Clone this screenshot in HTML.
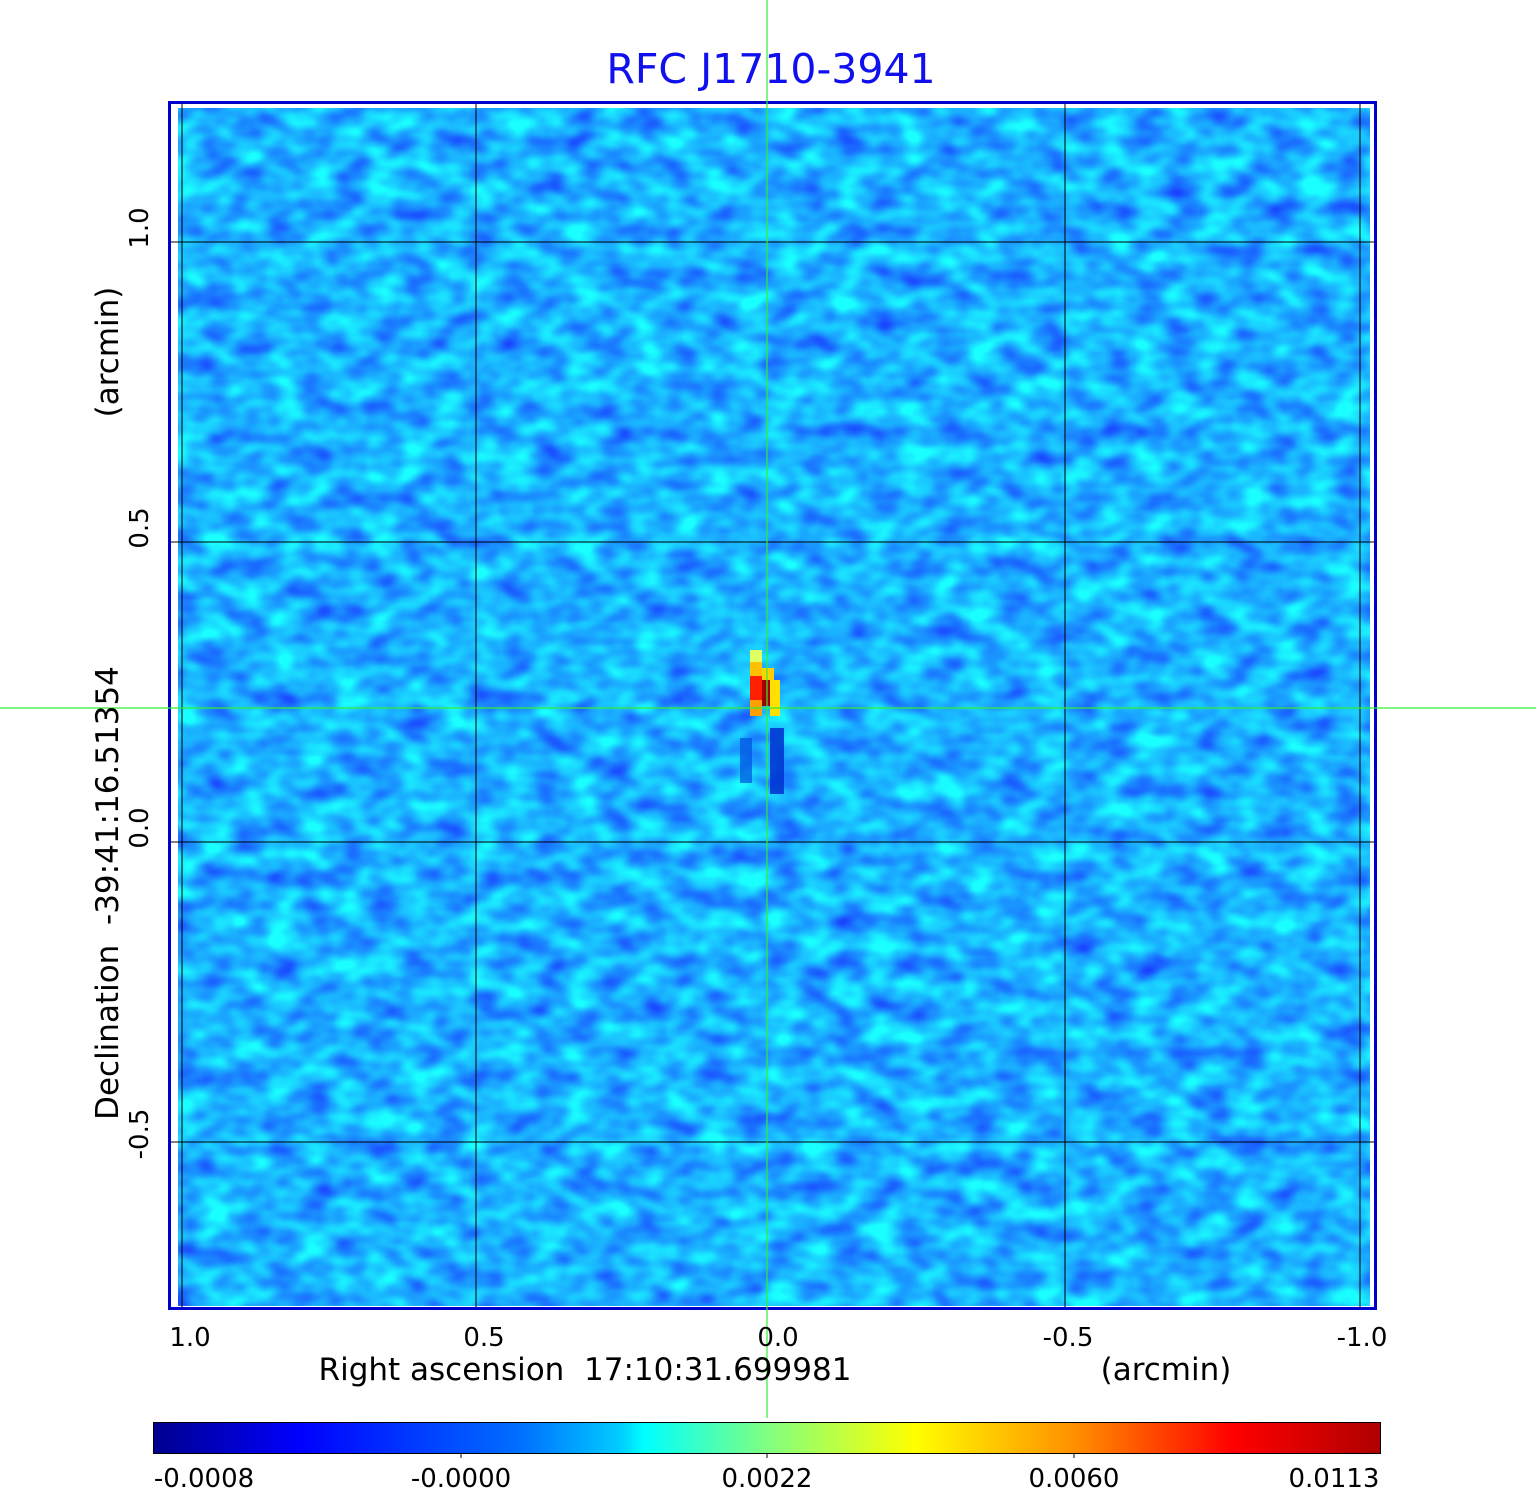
<!DOCTYPE html>
<html><head><meta charset="utf-8"><style>
html,body{margin:0;padding:0;background:#fff;}
svg{display:block;font-family:"DejaVu Sans","Liberation Sans",sans-serif;}
</style></head><body>
<svg width="1536" height="1511" viewBox="0 0 1536 1511" xmlns="http://www.w3.org/2000/svg">
<defs>
<filter id="nz" x="0" y="0" width="100%" height="100%" color-interpolation-filters="sRGB">
<feTurbulence type="fractalNoise" baseFrequency="0.03 0.045" numOctaves="2" seed="7" result="t"/>
<feColorMatrix in="t" type="matrix" values="0 0 0 0 0.1  1.1 0 0 0 0.15  0 0 0 0 1  0 0 0 0 1"/>
</filter>
<linearGradient id="jet" x1="0" x2="1" y1="0" y2="0">
<stop offset="0" stop-color="#00008f"/>
<stop offset="0.12" stop-color="#0000ff"/>
<stop offset="0.3" stop-color="#0070ff"/>
<stop offset="0.38" stop-color="#00ccff"/>
<stop offset="0.4" stop-color="#00ffff"/>
<stop offset="0.5" stop-color="#80ff80"/>
<stop offset="0.62" stop-color="#ffff00"/>
<stop offset="0.75" stop-color="#ff9000"/>
<stop offset="0.88" stop-color="#ff0000"/>
<stop offset="1" stop-color="#b00000"/>
</linearGradient>
</defs>
<text x="771" y="83" font-size="41" fill="#1010ee" text-anchor="middle">RFC J1710-3941</text>
<rect x="178" y="108" width="1192" height="1198" fill="#1890ff" filter="url(#nz)"/>
<!-- source -->
<rect x="770" y="728" width="14" height="66" fill="#0030d0" opacity="0.85"/>
<rect x="740" y="738" width="12" height="45" fill="#0050e0" opacity="0.7"/>
<rect x="750" y="650" width="12" height="12" fill="#e0ff60"/>
<rect x="750" y="662" width="12" height="14" fill="#ffc000"/>
<rect x="762" y="668" width="12" height="12" fill="#ffd000"/>
<rect x="750" y="676" width="12" height="24" fill="#ff2000"/>
<rect x="762" y="680" width="8" height="26" fill="#a00000"/>
<rect x="770" y="680" width="10" height="36" fill="#ffe000"/>
<rect x="750" y="700" width="12" height="16" fill="#ffa000"/>
<!-- grid -->
<g stroke="#000" stroke-width="1">
<line x1="182" y1="103" x2="182" y2="1308"/>
<line x1="476" y1="103" x2="476" y2="1308"/>
<line x1="767" y1="103" x2="767" y2="1308"/>
<line x1="1065" y1="103" x2="1065" y2="1308"/>
<line x1="1360" y1="103" x2="1360" y2="1308"/>
<line x1="170" y1="242" x2="1376" y2="242"/>
<line x1="170" y1="542" x2="1376" y2="542"/>
<line x1="170" y1="842" x2="1376" y2="842"/>
<line x1="170" y1="1142" x2="1376" y2="1142"/>
</g>
<rect x="169.5" y="102.5" width="1206" height="1206" fill="none" stroke="#0000cc" stroke-width="3"/>
<g stroke="#33ee33" stroke-width="1.2">
<line x1="767" y1="0" x2="767" y2="1418"/>
<line x1="0" y1="708" x2="1536" y2="708"/>
</g>
<g font-size="26" fill="#000" text-anchor="middle">
<text x="190" y="1346">1.0</text>
<text x="484" y="1346">0.5</text>
<text x="778" y="1346">0.0</text>
<text x="1068" y="1346">-0.5</text>
<text x="1362" y="1346">-1.0</text>
</g>
<text x="585" y="1380" font-size="31" text-anchor="middle" xml:space="preserve">Right ascension  17:10:31.699981</text>
<text x="1166" y="1380" font-size="31" text-anchor="middle">(arcmin)</text>
<g font-size="26" text-anchor="middle">
<text transform="translate(148,228) rotate(-90)">1.0</text>
<text transform="translate(148,528) rotate(-90)">0.5</text>
<text transform="translate(148,828) rotate(-90)">0.0</text>
<text transform="translate(148,1134) rotate(-90)">-0.5</text>
</g>
<text transform="translate(118,893) rotate(-90)" font-size="31" text-anchor="middle" xml:space="preserve">Declination  -39:41:16.51354</text>
<text transform="translate(118,352) rotate(-90)" font-size="31" text-anchor="middle">(arcmin)</text>
<rect x="153.5" y="1422.5" width="1227" height="31" fill="url(#jet)" stroke="#000" stroke-width="1"/>
<g stroke="#000"><line x1="461" y1="1453" x2="461" y2="1458"/><line x1="767" y1="1453" x2="767" y2="1458"/><line x1="1074" y1="1453" x2="1074" y2="1458"/></g>
<g font-size="26" text-anchor="middle">
<text x="204" y="1487">-0.0008</text>
<text x="461" y="1487">-0.0000</text>
<text x="767" y="1487">0.0022</text>
<text x="1074" y="1487">0.0060</text>
<text x="1334" y="1487">0.0113</text>
</g>
</svg>
</body></html>
